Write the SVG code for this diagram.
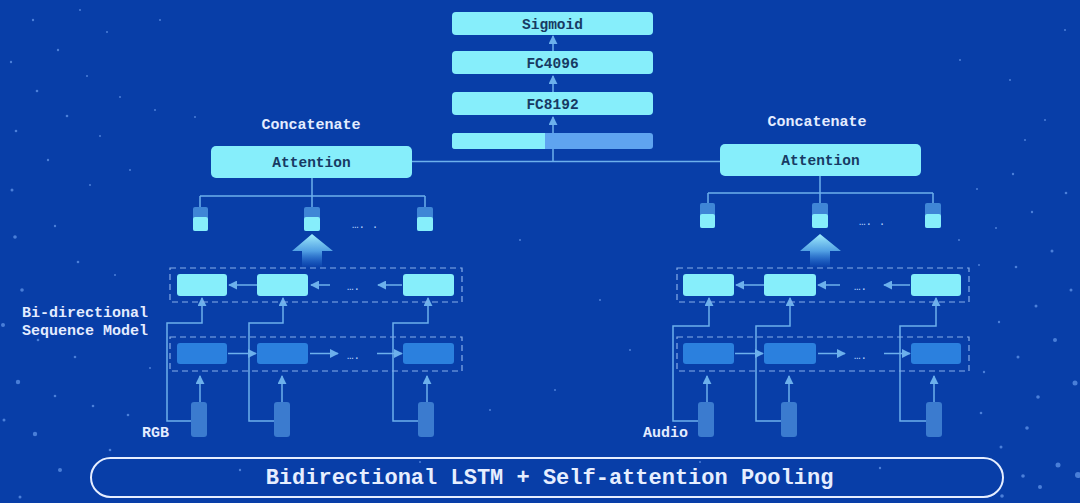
<svg xmlns="http://www.w3.org/2000/svg" width="1080" height="503" viewBox="0 0 1080 503">
<defs>
<style>
.lbl{font-family:"Liberation Mono","DejaVu Sans Mono",monospace;font-weight:bold;}
.wt{fill:#e3ecff;font-size:15px;}
.dk{fill:#173a63;font-size:14.5px;text-anchor:middle;}
.lt{fill:#86eefb;}
.md{fill:#2b80de;}
.sm{fill:#3f86d6;}
.inp{fill:#3b7bcf;}
.ln{stroke:#6cb0ec;stroke-width:1.5;fill:none;}
.ar{stroke:#6cb0ec;stroke-width:1.5;fill:none;marker-end:url(#ah);}
.dash{fill:none;stroke:#86aeea;stroke-width:1.2;stroke-dasharray:6 4;}
.dots{fill:#b9d6ff;font-family:"Liberation Mono",monospace;font-size:11px;}
.st{fill:#4b7fd9;}
.st2{fill:#5a8ee3;opacity:0.8;}
</style>
<marker id="ah" viewBox="0 0 10 10" refX="9" refY="5" markerWidth="9" markerHeight="9" markerUnits="userSpaceOnUse" orient="auto">
<path d="M0,0 L10,5 L0,10 Z" fill="#6cb0ec"/>
</marker>
<linearGradient id="bigar" x1="0" y1="0" x2="0" y2="1">
<stop offset="0" stop-color="#a2eefc"/>
<stop offset="0.5" stop-color="#5fb2ee" stop-opacity="0.85"/>
<stop offset="1" stop-color="#2f7fe0" stop-opacity="0"/>
</linearGradient>
</defs>
<rect width="1080" height="503" fill="#083ea8"/>
<g id="stars">
<circle class="st" cx="33" cy="20" r="1.2"/><circle class="st" cx="80" cy="10" r="1"/><circle class="st" cx="107" cy="32" r="1"/>
<circle class="st" cx="58" cy="50" r="1.2"/><circle class="st" cx="11" cy="62" r="1.2"/><circle class="st" cx="87" cy="76" r="1"/>
<circle class="st" cx="37" cy="91" r="1.3"/><circle class="st" cx="120" cy="97" r="1"/><circle class="st" cx="67" cy="116" r="1.3"/>
<circle class="st" cx="16" cy="131" r="1.3"/><circle class="st" cx="100" cy="136" r="1"/><circle class="st" cx="155" cy="110" r="1"/>
<circle class="st" cx="195" cy="117" r="1"/><circle class="st" cx="160" cy="20" r="1"/><circle class="st" cx="48" cy="160" r="1.2"/>
<circle class="st" cx="12" cy="190" r="1.5"/><circle class="st" cx="90" cy="185" r="1"/><circle class="st" cx="130" cy="170" r="1"/>
<circle class="st2" cx="15" cy="237" r="1.8"/><circle class="st" cx="55" cy="226" r="1.2"/><circle class="st" cx="78" cy="262" r="1.3"/>
<circle class="st2" cx="22" cy="290" r="1.8"/><circle class="st" cx="115" cy="275" r="1"/><circle class="st2" cx="3" cy="325" r="2"/>
<circle class="st" cx="38" cy="340" r="1.3"/><circle class="st" cx="75" cy="357" r="1.3"/><circle class="st2" cx="18" cy="382" r="2.2"/>
<circle class="st" cx="55" cy="396" r="1.3"/><circle class="st" cx="93" cy="406" r="1.3"/><circle class="st" cx="128" cy="415" r="1.3"/>
<circle class="st2" cx="35" cy="434" r="2.2"/><circle class="st" cx="4" cy="420" r="1.5"/><circle class="st2" cx="60" cy="470" r="2"/>
<circle class="st" cx="20" cy="497" r="1.5"/><circle class="st" cx="110" cy="450" r="1.3"/><circle class="st" cx="150" cy="368" r="1"/>
<circle class="st" cx="1013" cy="174" r="1.2"/><circle class="st" cx="977" cy="189" r="1"/><circle class="st" cx="1066" cy="193" r="1.3"/>
<circle class="st" cx="1032" cy="212" r="1.2"/><circle class="st" cx="996" cy="228" r="1"/><circle class="st" cx="959" cy="240" r="1"/>
<circle class="st" cx="1052" cy="251" r="1.5"/><circle class="st" cx="1016" cy="267" r="1.3"/><circle class="st" cx="979" cy="265" r="1"/>
<circle class="st" cx="1071" cy="290" r="1.5"/><circle class="st" cx="1036" cy="306" r="1.5"/><circle class="st" cx="999" cy="322" r="1.2"/>
<circle class="st2" cx="1055" cy="340" r="2"/><circle class="st" cx="984" cy="372" r="1.2"/><circle class="st" cx="1018" cy="357" r="1.5"/>
<circle class="st2" cx="1075" cy="383" r="2.5"/><circle class="st" cx="1038" cy="397" r="1.8"/><circle class="st" cx="981" cy="413" r="1.3"/>
<circle class="st" cx="1027" cy="428" r="1.8"/><circle class="st" cx="1001" cy="447" r="1.5"/><circle class="st2" cx="1058" cy="465" r="2.5"/>
<circle class="st" cx="1023" cy="476" r="1.8"/><circle class="st2" cx="1078" cy="475" r="3"/><circle class="st" cx="1040" cy="487" r="2"/>
<circle class="st" cx="1002" cy="496" r="1.8"/><circle class="st" cx="1045" cy="120" r="1"/><circle class="st" cx="1010" cy="80" r="1"/>
<circle class="st" cx="960" cy="60" r="1"/><circle class="st" cx="1065" cy="30" r="1"/><circle class="st" cx="1025" cy="140" r="1"/>
<circle class="st" cx="240" cy="470" r="1.2"/><circle class="st" cx="420" cy="462" r="1"/><circle class="st" cx="700" cy="462" r="1"/>
<circle class="st" cx="880" cy="468" r="1.2"/><circle class="st" cx="630" cy="350" r="1"/><circle class="st" cx="600" cy="300" r="1"/>
<circle class="st" cx="490" cy="410" r="1"/><circle class="st" cx="555" cy="390" r="1"/><circle class="st" cx="520" cy="240" r="1"/>
</g>
<g id="connectors">
<path class="ln" d="M412,161.5 H720"/>
<path class="ln" d="M553,161.5 V149"/>
<path class="ar" d="M553,133 V117"/>
<path class="ar" d="M553,93 V76"/>
<path class="ar" d="M553,51 V36"/>
<path class="ln" d="M312,178 V196 M200,196 H425 M200,196 V207 M312,196 V207 M425,196 V207"/>
<path class="ln" d="M820,176 V193 M708,193 H933 M708,193 V203 M820,193 V203 M933,193 V203"/>
<path class="ar" d="M257,285 H229"/><path class="ar" d="M330,285 H311"/><path class="ar" d="M402,285 H378"/>
<path class="ar" d="M228,353.5 H256"/><path class="ar" d="M310,353.5 H338"/><path class="ar" d="M377,353.5 H402"/>
<path class="ar" d="M764,285 H736"/><path class="ar" d="M840,285 H818"/><path class="ar" d="M910,285 H884"/>
<path class="ar" d="M735,353.5 H763"/><path class="ar" d="M818,353.5 H845"/><path class="ar" d="M884,353.5 H910"/>
<path class="ar" d="M191,421 H167 V323 H202 V298"/>
<path class="ar" d="M274,421 H249 V323 H283 V298"/>
<path class="ar" d="M418,421 H393 V323 H428 V298"/>
<path class="ar" d="M698,421 H673 V326 H709 V298"/>
<path class="ar" d="M781,421 H756 V326 H790 V298"/>
<path class="ar" d="M926,421 H900 V326 H936 V298"/>
<path class="ar" d="M200,402 V376"/><path class="ar" d="M282,402 V376"/><path class="ar" d="M427,402 V376"/>
<path class="ar" d="M707,402 V376"/><path class="ar" d="M789,402 V376"/><path class="ar" d="M934,402 V376"/>
</g>
<g id="sigmoid"><rect class="lt" x="452" y="12" width="201" height="23" rx="4"/><text class="lbl dk" x="552.5" y="28.5">Sigmoid</text></g>
<g id="fc4096"><rect class="lt" x="452" y="51" width="201" height="23" rx="4"/><text class="lbl dk" x="552.5" y="67.5">FC4096</text></g>
<g id="fc8192"><rect class="lt" x="452" y="92" width="201" height="23" rx="4"/><text class="lbl dk" x="552.5" y="108.5">FC8192</text></g>
<g id="concat-bar">
<rect x="452" y="133" width="201" height="16" rx="3" fill="#5fa4f0"/>
<path d="M455,133 H545 V149 H455 A3,3 0 0 1 452,146 V136 A3,3 0 0 1 455,133 Z" fill="#86eefb"/>
</g>
<g id="attention-left">
<text class="lbl wt" x="311" y="129" text-anchor="middle">Concatenate</text>
<rect class="lt" x="211" y="146" width="201" height="32" rx="5"/><text class="lbl dk" x="311.5" y="167">Attention</text>
</g>
<g id="attention-right">
<text class="lbl wt" x="817" y="126" text-anchor="middle">Concatenate</text>
<rect class="lt" x="720" y="144" width="201" height="32" rx="5"/><text class="lbl dk" x="820.5" y="165">Attention</text>
</g>
<g id="att-weights-left">
<rect class="sm" x="193" y="207" width="15" height="24" rx="2"/><rect class="lt" x="193" y="217" width="15" height="14" rx="2"/>
<rect class="sm" x="304" y="207" width="16" height="24" rx="2"/><rect class="lt" x="304" y="217" width="16" height="14" rx="2"/>
<rect class="sm" x="417" y="207" width="16" height="24" rx="2"/><rect class="lt" x="417" y="217" width="16" height="14" rx="2"/>
<text class="dots" x="352" y="228">…. .</text>
</g>
<g id="att-weights-right">
<rect class="sm" x="700" y="203" width="15" height="25" rx="2"/><rect class="lt" x="700" y="214" width="15" height="14" rx="2"/>
<rect class="sm" x="812" y="203" width="16" height="25" rx="2"/><rect class="lt" x="812" y="214" width="16" height="14" rx="2"/>
<rect class="sm" x="925" y="203" width="16" height="25" rx="2"/><rect class="lt" x="925" y="214" width="16" height="14" rx="2"/>
<text class="dots" x="859" y="225">…. .</text>
</g>
<g id="up-arrow-left"><path d="M312,234 L333,251 H322 V268 H302 V251 H292 Z" fill="url(#bigar)"/></g>
<g id="up-arrow-right"><path d="M820,234 L841,251 H830 V268 H810 V251 H800 Z" fill="url(#bigar)"/></g>
<g id="seq-left">
<rect class="dash" x="170" y="268" width="292" height="34"/>
<rect class="lt" x="177" y="274" width="50" height="22" rx="3"/>
<rect class="lt" x="257" y="274" width="51" height="22" rx="3"/>
<rect class="lt" x="403" y="274" width="51" height="22" rx="3"/>
<text class="dots" x="347" y="290">….</text>
<rect class="dash" x="170" y="337" width="292" height="34"/>
<rect class="md" x="177" y="343" width="50" height="21" rx="3"/>
<rect class="md" x="257" y="343" width="51" height="21" rx="3"/>
<rect class="md" x="403" y="343" width="51" height="21" rx="3"/>
<text class="dots" x="347" y="359">….</text>
<rect class="inp" x="191" y="402" width="16" height="35" rx="3"/>
<rect class="inp" x="274" y="402" width="16" height="35" rx="3"/>
<rect class="inp" x="418" y="402" width="16" height="35" rx="3"/>
<text class="lbl wt" x="22" y="317" font-size="14">Bi-directional</text>
<text class="lbl wt" x="22" y="335" font-size="14">Sequence Model</text>
<text class="lbl wt" x="142" y="437" font-size="14">RGB</text>
</g>
<g id="seq-right">
<rect class="dash" x="677" y="268" width="292" height="34"/>
<rect class="lt" x="683" y="274" width="51" height="22" rx="3"/>
<rect class="lt" x="764" y="274" width="52" height="22" rx="3"/>
<rect class="lt" x="911" y="274" width="50" height="22" rx="3"/>
<text class="dots" x="854" y="290">….</text>
<rect class="dash" x="677" y="337" width="292" height="34"/>
<rect class="md" x="683" y="343" width="51" height="21" rx="3"/>
<rect class="md" x="764" y="343" width="52" height="21" rx="3"/>
<rect class="md" x="911" y="343" width="50" height="21" rx="3"/>
<text class="dots" x="854" y="359">….</text>
<rect class="inp" x="698" y="402" width="16" height="35" rx="3"/>
<rect class="inp" x="781" y="402" width="16" height="35" rx="3"/>
<rect class="inp" x="926" y="402" width="16" height="35" rx="3"/>
<text class="lbl wt" x="643" y="437" font-size="14">Audio</text>
</g>
<g id="title">
<rect x="91" y="458" width="912" height="39" rx="19.5" fill="none" stroke="#e6eeff" stroke-width="2"/>
<text class="lbl" x="549.5" y="484" text-anchor="middle" font-size="22" fill="#e6eeff">Bidirectional LSTM + Self-attention Pooling</text>
</g>
</svg>
